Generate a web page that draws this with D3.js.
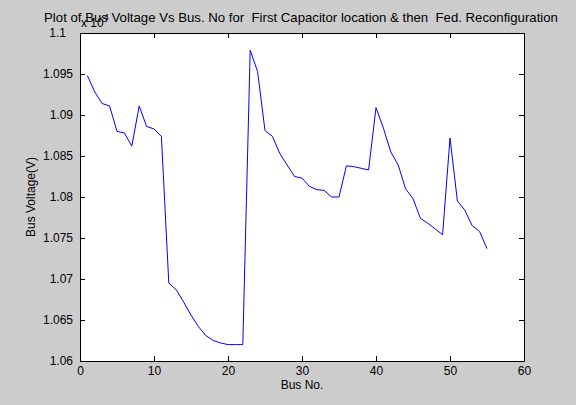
<!DOCTYPE html>
<html>
<head>
<meta charset="utf-8">
<script src="https://cdn.jsdelivr.net/npm/d3@7"></script>
<style>
  html, body { margin: 0; padding: 0; background: #cccccc; }
  text { font-family: "Liberation Sans", Arial, Helvetica, sans-serif; fill: #000; }
</style>
</head>
<body>
<div id="screen"></div>
<script>
// bus voltage (x 10^4) per bus number
var busNo = [];
for (var b = 1; b <= 55; b++) busNo.push(b);
var voltage = [
  1.0948, 1.0928, 1.0914, 1.0911, 1.0880, 1.0878, 1.0862, 1.0911, 1.0886, 1.0883,
  1.0874, 1.0695, 1.0687, 1.0672, 1.0656, 1.0642, 1.0631, 1.0625, 1.0622, 1.0620,
  1.0620, 1.0620, 1.0979, 1.0953, 1.0881, 1.0874, 1.0853, 1.0839, 1.0825, 1.0823,
  1.0813, 1.0809, 1.0808, 1.0800, 1.0800, 1.0838, 1.0837, 1.0835, 1.0833, 1.0909,
  1.0884, 1.0855, 1.0839, 1.0810, 1.0798, 1.0774, 1.0768, 1.0761, 1.0754, 1.0872,
  1.0795, 1.0784, 1.0765, 1.0758, 1.0737
];
var xTicks = [0, 10, 20, 30, 40, 50, 60];
var yTicks = [1.06, 1.065, 1.07, 1.075, 1.08, 1.085, 1.09, 1.095, 1.1];
var yTickLabels = ["1.06", "1.065", "1.07", "1.075", "1.08", "1.085", "1.09", "1.095", "1.1"];

var width = 576, height = 405;
var box = {left: 80, right: 524, top: 33, bottom: 361};
var tickLen = 5;

var svg = d3.select("#screen").append("svg")
    .attr("width", width).attr("height", height);

svg.append("rect").attr("width", width).attr("height", height).attr("fill", "#cccccc");

var x = d3.scaleLinear().domain([0, 60]).range([box.left, box.right]);
var y = d3.scaleLinear().domain([1.06, 1.1]).range([box.bottom, box.top]);

svg.append("rect")
    .attr("x", box.left).attr("y", box.top)
    .attr("width", box.right - box.left).attr("height", box.bottom - box.top)
    .attr("fill", "#ffffff");

// axes, matlab style: ticks inside on all four sides
var bottomAxis = d3.axisBottom(x).tickValues(xTicks).tickSizeInner(-tickLen).tickSizeOuter(0).tickPadding(5);
var topAxis = d3.axisTop(x).tickValues(xTicks).tickSizeInner(-tickLen).tickSizeOuter(0).tickFormat("");
var leftAxis = d3.axisLeft(y).tickValues(yTicks).tickSizeInner(-tickLen).tickSizeOuter(0).tickPadding(7)
    .tickFormat(function(d, i) { return yTickLabels[i]; });
var rightAxis = d3.axisRight(y).tickValues(yTicks).tickSizeInner(-tickLen).tickSizeOuter(0).tickFormat("");

function styleAxis(g) {
    g.select(".domain").attr("stroke", "#000").attr("stroke-width", 1);
    g.selectAll(".tick line").attr("stroke", "#000");
    g.selectAll(".tick text").attr("font-size", 12).attr("font-family", "Liberation Sans, Arial, sans-serif").attr("fill", "#000");
}

svg.append("g").attr("transform", "translate(0," + box.bottom + ")").call(bottomAxis).call(styleAxis);
svg.append("g").attr("transform", "translate(0," + box.top + ")").call(topAxis).call(styleAxis);
var gl = svg.append("g").attr("transform", "translate(" + box.left + ",0)").call(leftAxis).call(styleAxis);
svg.append("g").attr("transform", "translate(" + box.right + ",0)").call(rightAxis).call(styleAxis);

// the "1.1" label sits a bit left (padded char matrix in matlab)
gl.selectAll(".tick text").filter(function(d) { return d === 1.1; }).attr("dx", -7);

var line = d3.line()
    .x(function(d, i) { return x(busNo[i]); })
    .y(function(d) { return y(d); });

svg.append("path")
    .datum(voltage)
    .attr("d", line)
    .attr("fill", "none")
    .attr("stroke", "#0000ff")
    .attr("stroke-width", 1);

// title, exponent and labels
svg.append("text")
    .attr("x", 301).attr("y", 22)
    .attr("text-anchor", "middle")
    .attr("font-size", 13.2)
    .style("white-space", "pre")
    .text("Plot of Bus Voltage Vs Bus. No for  First Capacitor location & then  Fed. Reconfiguration");

var expo = svg.append("text").attr("x", 81).attr("y", 27).attr("font-size", 12);
expo.append("tspan").text("x 10");
expo.append("tspan").attr("dy", -7).attr("font-size", 9).text("4");

svg.append("text")
    .attr("x", (box.left + box.right) / 2).attr("y", 389)
    .attr("text-anchor", "middle")
    .attr("font-size", 12)
    .text("Bus No.");

svg.append("text")
    .attr("transform", "translate(35," + ((box.top + box.bottom) / 2) + ") rotate(-90)")
    .attr("text-anchor", "middle")
    .attr("font-size", 12)
    .text("Bus Voltage(V)");
</script>
</body>
</html>
